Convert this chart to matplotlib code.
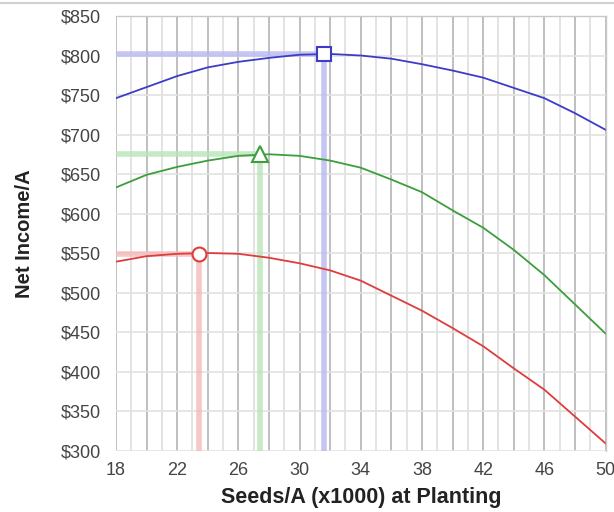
import matplotlib
matplotlib.use("Agg")
import matplotlib.pyplot as plt
from matplotlib.lines import Line2D
from matplotlib.ticker import MultipleLocator, FuncFormatter

plt.rcParams['font.family'] = ['Liberation Sans', 'DejaVu Sans']

seeds = [18, 20, 22, 24, 26, 28, 30, 32, 34, 36, 38, 40, 42, 44, 46, 48, 50]
blue = [746, 760, 774, 785, 792, 797, 801, 802, 800, 796, 789, 781, 772, 759, 746, 727, 706]
green = [633, 649, 659, 667, 673, 675, 673, 667, 658, 643, 627, 604, 582, 554, 522, 485, 448]
red = [539, 546, 549, 550, 549, 544, 537, 528, 515, 496, 477, 455, 432, 404, 377, 343, 309]

opt_x = [31.6, 27.4, 23.4]
opt_y = [802, 675, 549]
colors = ['#3c3cc8', '#3c9e3c', '#e03c3c']
guide_colors = ['#b8b8f0', '#b8e4b8', '#f5b8b8']
markers = ['s', '^', 'o']
msizes = [10, 12, 10]

x_ticks = [18, 22, 26, 30, 34, 38, 42, 46, 50]

fig = plt.figure(figsize=(6.14, 5.12), dpi=100)
ax = fig.add_axes([0.1889, 0.1201, 0.7974, 0.8486])

ax.set_xlim(18, 50)
ax.set_ylim(300, 850)

# grid
for xv in range(18, 51):
    c = '#b4b4b4' if xv % 2 == 0 else '#dedede'
    ax.axvline(xv, color=c, lw=1.2, zorder=0)
for yv in range(300, 851, 50):
    ax.axhline(yv, color='#e2e2e2', lw=1.2, zorder=0)

series = [blue, green, red]
for s, c, gc, ox, oy, m, ms in zip(series, colors, guide_colors, opt_x, opt_y, markers, msizes):
    ax.plot([18, ox], [oy, oy], color=gc, lw=4, alpha=0.8, zorder=1, solid_capstyle='butt')
    ax.plot([ox, ox], [300, oy], color=gc, lw=4, alpha=0.8, zorder=1, solid_capstyle='butt')
    ax.plot(seeds, s, color=c, lw=1.3, zorder=2)
    ax.plot([ox], [oy], marker=m, ms=ms, mfc='white', mec=c, mew=1.5, zorder=3, ls='none')

ax.set_xticks(x_ticks)
ax.yaxis.set_major_locator(MultipleLocator(50))
ax.tick_params(axis='both', which='both', length=0, labelsize=13, colors='#444444')
ax.tick_params(axis='y', pad=11)
ax.tick_params(axis='x', pad=8)
ax.yaxis.set_major_formatter(FuncFormatter(lambda v, p: f"${int(v)}"))

for sp in ax.spines.values():
    sp.set_color('#c8c8c8')
    sp.set_linewidth(1.0)
ax.spines['left'].set_visible(False)
ax.spines['bottom'].set_visible(False)

ax.set_xlabel('Seeds/A (x1000) at Planting', fontsize=15.5, fontweight='bold', color='#222222', labelpad=6)
ax.set_ylabel('Net Income/A', fontsize=14.5, fontweight='bold', color='#222222', labelpad=19)

fig.add_artist(Line2D([0, 1], [0.995, 0.995], transform=fig.transFigure, color='#d0d0d0', lw=1.5))

fig.savefig('out.png', dpi=100)
